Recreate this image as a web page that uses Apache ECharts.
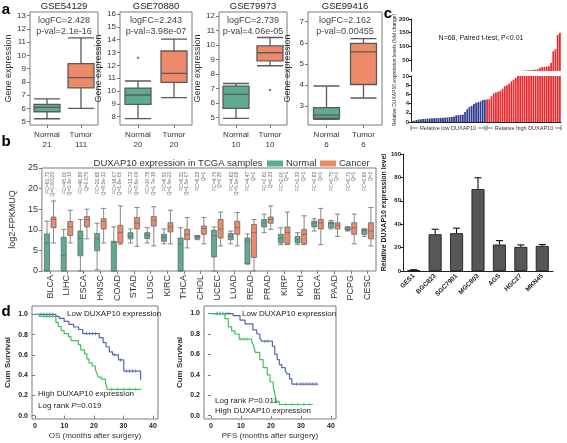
<!DOCTYPE html>
<html><head><meta charset="utf-8">
<script src="https://cdn.jsdelivr.net/npm/echarts@6/dist/echarts.min.js"></script>
<style>html,body{margin:0;padding:0;background:#fff}#c{width:567px;height:443px}</style>
</head><body><div id="c"></div>
<script>
// ---------- Panel a data ----------
const gseTitles = ['GSE54129', 'GSE70880', 'GSE79973', 'GSE99416'];
const gseLogFC = ['logFC=2.428', 'logFC=2.243', 'logFC=2.739', 'logFC=2.162'];
const gsePval = ['p-val=2.1e-16', 'p-val=3.98e-07', 'p-val=4.06e-05', 'p-val=0.00455'];
const gseGroups = ['Normal', 'Tumor'];
const gseCounts = [[21, 111], [20, 20], [10, 10], [6, 6]];
// [min, Q1, median, Q3, max]
const gseNormalBox = [[5.22, 5.75, 6.08, 6.3, 6.72], [7.84, 8.96, 9.69, 10.23, 10.78], [4.95, 5.64, 6.6, 7.17, 7.35], [2.37, 2.42, 2.57, 2.92, 3.95]];
const gseTumorBox = [[6.0, 7.55, 8.33, 9.38, 11.32], [9.48, 10.68, 11.38, 13.12, 14.05], [8.57, 8.91, 9.46, 9.94, 10.51], [3.38, 4.02, 5.57, 5.97, 6.2]];
const gseOutliers = [[], [['Normal', 12.6]], [['Tumor', 6.9]], []];
const gseYTicks = [[5, 6, 7, 8, 9, 10, 11, 12, 13], [8, 9, 10, 11, 12, 13, 14, 15, 16], [5, 6, 7, 8, 9, 10, 11, 12], [3, 4, 5, 6, 7]];

// ---------- Panel b data ----------
const tcgaTypes = ['BLCA', 'LIHC', 'ESCA', 'HNSC', 'COAD', 'STAD', 'LUSC', 'KIRC', 'THCA', 'CHOL', 'UCEC', 'LUAD', 'READ', 'PRAD', 'KIRP', 'KICH', 'BRCA', 'PAAD', 'PCPG', 'CESC'];
const tcgaFC = ['61.72', '45.00', '40.89', '20.68', '16.07', '13.72', '10.78', '6.92', '6.31', '6.23', '4.75', '4.62', '4.47', '2.81', '2.00', '1.33', '0.83', '0.75', '0.71', '0.65'];
const tcgaQ = ['0.00025', '3.3e-13', '0.075', '9.5e-12', '1.8e-05', '3.6e-09', '1.7e-19', '1.5e-21', '1.5e-07', '1', '0.35', '5.1e-08', '1', '0.33', '1', '1', '1', '1', '1', '1'];
const tcgaNormal = [
  [0, 0, 6.8, 9.0, 12.1], [0, 0, 3.7, 8.2, 10.1], [0, 3.7, 7.9, 9.7, 12.5], [0.3, 4.9, 7.8, 9.1, 11.6],
  [0, 0, 7.0, 7.2, 10.7], [6.8, 7.8, 8.4, 9.3, 10.2], [6.8, 7.9, 8.7, 9.3, 10.5], [6.6, 7.2, 8.2, 8.9, 10.2],
  [0, 0, 6.6, 8.0, 10.5], [7.6, 7.8, 8.3, 8.6, 8.6], [0, 3.4, 8.6, 9.9, 10.7], [6.6, 7.6, 8.4, 9.1, 9.7],
  [1.7, 1.7, 7.2, 8.0, 9.0], [9.3, 10.7, 11.7, 12.5, 13.8], [6.4, 6.8, 8.0, 8.9, 10.5], [6.4, 6.8, 7.6, 8.4, 9.3],
  [9.7, 10.7, 11.6, 12.1, 12.7], [10.2, 10.5, 11.5, 11.9, 12.3], [9.7, 9.9, 10.2, 10.7, 10.7], [8.4, 8.9, 9.8, 10.2, 10.2]
];
const tcgaCancer = [
  [6.8, 10.5, 12.5, 13.1, 17.0], [6.8, 8.6, 10.7, 12.0, 14.75], [7.8, 10.7, 12.5, 13.2, 15.0], [6.8, 10.2, 12.0, 12.7, 15.2],
  [6.5, 6.8, 9.3, 11.1, 15.8], [6.0, 10.2, 11.6, 13.0, 15.4], [6.1, 10.9, 12.3, 13.2, 15.6], [6.6, 9.5, 10.7, 11.7, 14.75],
  [5.6, 7.6, 8.9, 10.1, 13.0], [6.6, 8.9, 10.3, 10.9, 13.0], [6.1, 8.0, 10.2, 12.5, 14.3], [6.1, 8.9, 10.5, 12.1, 14.2],
  [0, 3.3, 9.3, 11.3, 12.5], [10.1, 11.6, 12.5, 13.1, 15.8], [6.4, 6.6, 9.3, 10.7, 14.3], [6.4, 6.6, 8.9, 10.1, 13.4],
  [6.4, 10.2, 11.7, 12.5, 15.2], [8.4, 10.2, 11.1, 11.7, 13.8], [6.6, 8.9, 10.5, 11.7, 13.8], [6.1, 7.8, 9.7, 11.7, 15.4]
];
const tcgaLegend = ['Normal', 'Cancer'];

// ---------- Panel c data ----------
const lowGroup = [0.2, 0.3, 0.45, 0.55, 0.6, 0.65, 0.7, 0.75, 0.78, 0.8, 0.82, 0.85, 0.88, 0.9, 0.92, 0.95, 1.0, 1.05, 1.1, 1.2, 1.45, 1.5, 1.55, 1.6, 2.2, 2.8, 3.3, 3.5, 3.9, 4.2, 4.3, 4.5, 4.8, 4.85];
const highGroup = [4.9, 4.95, 5.6, 6.2, 6.4, 6.6, 6.8, 7.2, 7.8, 8.0, 8.3, 8.8, 9.2, 9.6, 10.2, 10.5, 11, 11.5, 12, 12.5, 13, 14, 15, 16, 22, 24, 25, 26, 27, 40, 82, 90, 142, 150];
const foldUpperTicks = [50, 100, 150, 200];
const foldLowerTicks = [0, 2, 4, 6, 8, 10];
const cellLines = ['GES1', 'BGC823', 'SGC7901', 'MGC803', 'AGS', 'HGC27', 'MKN45'];
const cellMean = [0.8, 31.4, 32.3, 70, 22.6, 20.6, 21.4];
const cellErr = [0.3, 4.3, 4.3, 9.7, 3.4, 1.7, 1.2];

// ---------- Panel d data ----------
const osLow = [[0, 1], [7.1, 0.98], [8.2, 0.96], [9.9, 0.93], [11.5, 0.9], [13.1, 0.875], [14.8, 0.85], [16.2, 0.81], [21.8, 0.77], [23.1, 0.72], [24.1, 0.68], [25.2, 0.63], [26.3, 0.6], [28.3, 0.55], [30.1, 0.44], [35.8, 0.35]];
const osHigh = [[0, 1], [1.5, 0.98], [7.1, 0.92], [7.9, 0.88], [8.9, 0.84], [9.9, 0.81], [11.4, 0.78], [12.2, 0.74], [14.7, 0.7], [15.5, 0.65], [16.8, 0.61], [17.6, 0.56], [18.3, 0.52], [19.4, 0.49], [20.5, 0.45], [21.0, 0.42], [21.4, 0.38], [22.5, 0.36], [23.9, 0.33], [24.5, 0.26], [36, 0.26]];
const pfsLow = [[0, 1], [7.4, 0.98], [9.7, 0.935], [11.4, 0.9], [14, 0.84], [15.3, 0.8], [16.3, 0.76], [16.9, 0.73], [20.5, 0.68], [21.3, 0.6], [22.1, 0.55], [22.8, 0.5], [23.6, 0.47], [24.8, 0.44], [25.4, 0.41], [26.2, 0.36], [27.0, 0.31], [35.8, 0.31]];
const pfsHigh = [[0, 1], [4.7, 0.95], [5.8, 0.87], [6.9, 0.83], [8.0, 0.8], [9.4, 0.75], [13.6, 0.72], [14.2, 0.69], [14.8, 0.62], [16.3, 0.55], [17.4, 0.47], [18.8, 0.4], [19.7, 0.33], [20.8, 0.28], [21.3, 0.22], [21.8, 0.14], [22.8, 0.11], [34, 0.11]];
const osLowCensor = [2, 3, 4, 5, 6, 17.5, 18.5, 19.5, 20.5, 27, 29, 31, 32, 33, 34];
const osHighCensor = [3, 4, 5, 6, 26, 28, 30, 32, 34];
const pfsLowCensor = [2, 3, 4, 5, 6, 18, 19, 28.5, 30, 31, 32, 33, 34, 35];
const pfsHighCensor = [2, 3, 10, 11, 12, 25, 27, 29, 31, 33];
const survTicks = [0, 0.2, 0.4, 0.6, 0.8, 1.0];
const monthTicks = [0, 10, 20, 30, 40];

// ---------- styles ----------
const FONT = "'Liberation Sans', Arial, sans-serif";
const GREEN = '#5dab90', ORANGE = '#ec8a69', BOXLINE = '#5a5a5a';
const BLUE_BAR = '#2e3b8e', RED_BAR = '#e8262b';
const KM_BLUE = '#5567a8', KM_GREEN = '#40c05c';
const FRAME = '#7a7a7a';

function stepAt(curve, t) { let v = curve[0][1]; for (const p of curve) { if (p[0] <= t) v = p[1]; else break; } return v; }

const grid = [
  { left: 30, top: 12, width: 68, height: 113 },
  { left: 120, top: 12, width: 72, height: 113 },
  { left: 219, top: 12, width: 68, height: 113 },
  { left: 308, top: 12, width: 74, height: 113 },
  { left: 29, top: 168, width: 347, height: 103 },
  { left: 411, top: 19, width: 150, height: 52 },
  { left: 411, top: 76, width: 150, height: 46 },
  { left: 403, top: 154, width: 150, height: 117 },
  { left: 32, top: 306, width: 126, height: 113 },
  { left: 204, top: 306, width: 132, height: 113 }
].map((g, i) => Object.assign({ show: [0, 1, 2, 3, 4, 8, 9].includes(i), borderColor: FRAME, borderWidth: 1 }, g));

const aRange = [[4.75, 13.28], [7.35, 16.16], [4.5, 12.26], [2.1, 7.46]];
const xAxis = [], yAxis = [], series = [], graphic = [];

// Panel a
for (let i = 0; i < 4; i++) {
  xAxis.push({ gridIndex: i, type: 'category', data: gseGroups, axisLine: { show: false },
    axisTick: { show: true, alignWithLabel: true, length: 3, lineStyle: { color: FRAME } },
    axisLabel: { fontSize: 8, color: '#333', lineHeight: 10, margin: 5, formatter: (v, idx) => v + '\n' + gseCounts[i][idx] } });
  yAxis.push({ gridIndex: i, type: 'value', min: aRange[i][0], max: aRange[i][1], axisLine: { show: false },
    axisTick: { show: true, length: 3, lineStyle: { color: FRAME }, customValues: gseYTicks[i] },
    axisLabel: { fontSize: 8, color: '#333', margin: 4, customValues: gseYTicks[i] }, splitLine: { show: false },
    name: 'Gene expression', nameLocation: 'middle', nameGap: 16, nameTextStyle: { fontSize: 9, color: '#333' } });
  series.push({ type: 'boxplot', name: 'gse' + i, xAxisIndex: i, yAxisIndex: i, boxWidth: [26, 26],
    itemStyle: { borderColor: BOXLINE, borderWidth: 1.3 },
    data: [{ value: gseNormalBox[i], itemStyle: { color: GREEN } }, { value: gseTumorBox[i], itemStyle: { color: ORANGE } }] });
  if (gseOutliers[i].length) series.push({ type: 'scatter', name: 'out' + i, xAxisIndex: i, yAxisIndex: i, symbol: 'diamond', symbolSize: 3, itemStyle: { color: '#555' }, data: gseOutliers[i] });
  const cx = grid[i].left + grid[i].width / 2;
  graphic.push({ type: 'text', x: cx, y: 6, style: { text: gseTitles[i], fontSize: 9.5, fontFamily: FONT, fill: '#222', align: 'center', verticalAlign: 'middle' } });
  graphic.push({ type: 'text', x: cx, y: 21, style: { text: gseLogFC[i], fontSize: 9, fontFamily: FONT, fill: '#444', align: 'center', verticalAlign: 'middle' } });
  graphic.push({ type: 'text', x: cx, y: 32, style: { text: gsePval[i], fontSize: 9, fontFamily: FONT, fill: '#444', align: 'center', verticalAlign: 'middle' } });
}

// Panel b
xAxis.push({ gridIndex: 4, type: 'category', data: tcgaTypes, axisLine: { show: false },
  axisTick: { show: true, alignWithLabel: true, length: 3, lineStyle: { color: FRAME } },
  axisLabel: { rotate: 90, fontSize: 9, color: '#333', margin: 4, interval: 0 } });
yAxis.push({ gridIndex: 4, type: 'value', min: 0, max: 25, interval: 5, axisLine: { show: false },
  axisTick: { show: true, length: 3, lineStyle: { color: FRAME } }, splitLine: { show: false },
  axisLabel: { fontSize: 9, color: '#333', margin: 4 },
  name: 'log2-FPKMUQ', nameLocation: 'middle', nameGap: 16, nameTextStyle: { fontSize: 9, color: '#333' } });
series.push({ type: 'boxplot', name: tcgaLegend[0], xAxisIndex: 4, yAxisIndex: 4, boxWidth: [5, 6],
  itemStyle: { color: GREEN, borderColor: '#6a6a6a', borderWidth: 0.8 }, data: tcgaNormal });
series.push({ type: 'boxplot', name: tcgaLegend[1], xAxisIndex: 4, yAxisIndex: 4, boxWidth: [5, 6],
  itemStyle: { color: ORANGE, borderColor: '#6a6a6a', borderWidth: 0.8 }, data: tcgaCancer });
series.push({ type: 'scatter', name: 'fcq', xAxisIndex: 4, yAxisIndex: 4, symbolSize: 0, silent: true,
  data: tcgaTypes.map(t => [t, 24.1]),
  label: { show: true, position: 'inside', rotate: 90, align: 'right', verticalAlign: 'middle', fontSize: 5, lineHeight: 5.5, color: '#444',
    formatter: p => 'FC=' + tcgaFC[p.dataIndex] + '\nQ=' + tcgaQ[p.dataIndex] } });
graphic.push({ type: 'text', x: 178, y: 163, style: { text: 'DUXAP10 expression in TCGA samples', fontSize: 9.5, fontFamily: FONT, fill: '#333', align: 'center', verticalAlign: 'middle' } });
[[267, GREEN, tcgaLegend[0]], [320, ORANGE, tcgaLegend[1]]].forEach(l => {
  graphic.push({ type: 'rect', shape: { x: l[0], y: 160.5, width: 16, height: 6 }, style: { fill: l[1] } });
  graphic.push({ type: 'text', x: l[0] + 19, y: 163.5, style: { text: l[2], fontSize: 9.5, fontFamily: FONT, fill: '#333', align: 'left', verticalAlign: 'middle' } });
});

// Panel c waterfall
const foldAll = lowGroup.concat(highGroup);
const foldIdx = foldAll.map((v, i) => String(i + 1));
const barColor = i => (i < lowGroup.length ? BLUE_BAR : RED_BAR);
xAxis.push({ gridIndex: 5, type: 'category', data: foldIdx, show: false });
yAxis.push({ gridIndex: 5, type: 'value', min: 10, max: 200, axisLine: { show: true, lineStyle: { color: '#222' } },
  axisTick: { show: true, length: 2, lineStyle: { color: '#222' }, customValues: foldUpperTicks },
  axisLabel: { fontSize: 6, fontWeight: 'bold', color: '#222', margin: 2, customValues: foldUpperTicks }, splitLine: { show: false } });
xAxis.push({ gridIndex: 6, type: 'category', data: foldIdx, axisLine: { show: true, lineStyle: { color: '#222' } }, axisTick: { show: false }, axisLabel: { show: false } });
yAxis.push({ gridIndex: 6, type: 'value', min: 0, max: 10, axisLine: { show: true, lineStyle: { color: '#222' } },
  axisTick: { show: true, length: 2, lineStyle: { color: '#222' }, customValues: foldLowerTicks },
  axisLabel: { fontSize: 6, fontWeight: 'bold', color: '#222', margin: 2, customValues: foldLowerTicks }, splitLine: { show: false } });
series.push({ type: 'bar', name: 'foldUpper', xAxisIndex: 5, yAxisIndex: 5, barCategoryGap: '22%', clip: true,
  data: foldAll.map((v, i) => ({ value: v > 10 ? v : '-', itemStyle: { color: barColor(i) } })) });
series.push({ type: 'bar', name: 'foldLower', xAxisIndex: 6, yAxisIndex: 6, barCategoryGap: '22%', clip: true,
  data: foldAll.map((v, i) => ({ value: Math.min(v, 10), itemStyle: { color: barColor(i) } })) });
graphic.push({ type: 'text', x: 481, y: 38, style: { text: 'N=68, Paired t-test, P<0.01', fontSize: 7, fontFamily: FONT, fill: '#222', align: 'center', verticalAlign: 'middle' } });
graphic.push({ type: 'text', x: 395, y: 70, rotation: Math.PI / 2, style: { text: 'Relative DUXAP10 expression levels (fold change)', fontSize: 5, fontFamily: FONT, fill: '#222', align: 'center', verticalAlign: 'middle' } });
[[411, 485, 'Relative low DUXAP10'], [487, 561, 'Relative high DUXAP10']].forEach(b => {
  graphic.push({ type: 'line', shape: { x1: b[0], y1: 128, x2: b[1], y2: 128 }, style: { stroke: '#444', lineWidth: 0.7 } });
  graphic.push({ type: 'line', shape: { x1: b[0], y1: 125.5, x2: b[0], y2: 130.5 }, style: { stroke: '#444', lineWidth: 0.7 } });
  graphic.push({ type: 'line', shape: { x1: b[1], y1: 125.5, x2: b[1], y2: 130.5 }, style: { stroke: '#444', lineWidth: 0.7 } });
  graphic.push({ type: 'text', x: (b[0] + b[1]) / 2, y: 128, style: { text: b[2], fontSize: 5.5, fontFamily: FONT, fill: '#333', align: 'center', verticalAlign: 'middle', backgroundColor: '#fff', padding: [0, 2] } });
});

// Panel c cell lines
xAxis.push({ gridIndex: 7, type: 'category', data: cellLines, axisLine: { show: true, lineStyle: { color: '#222' } }, axisTick: { show: false },
  axisLabel: { rotate: 45, fontSize: 6.5, fontWeight: 'bold', color: '#222', margin: 4, interval: 0 } });
yAxis.push({ gridIndex: 7, type: 'value', min: 0, max: 100, interval: 20, axisLine: { show: true, lineStyle: { color: '#222' } },
  axisTick: { show: true, length: 3, lineStyle: { color: '#222' } }, splitLine: { show: false },
  axisLabel: { fontSize: 6, fontWeight: 'bold', color: '#222', margin: 2 },
  name: 'Relative DUXAP10 expression level', nameLocation: 'middle', nameGap: 12, nameTextStyle: { fontSize: 7, fontWeight: 'bold', color: '#222' } });
series.push({ type: 'bar', name: 'cells', xAxisIndex: 7, yAxisIndex: 7, barWidth: 13, data: cellMean,
  itemStyle: { color: '#575757', borderColor: '#111', borderWidth: 0.8 } });
series.push({ type: 'custom', name: 'err', xAxisIndex: 7, yAxisIndex: 7, encode: { x: 0, y: [1, 2] },
  data: cellLines.map((c, i) => [i, cellMean[i], cellMean[i] + cellErr[i]]),
  renderItem: (params, api) => {
    const base = api.coord([api.value(0), api.value(1)]);
    const top = api.coord([api.value(0), api.value(2)]);
    return { type: 'group', children: [
      { type: 'line', shape: { x1: base[0], y1: base[1], x2: top[0], y2: top[1] }, style: { stroke: '#111', lineWidth: 1.1 } },
      { type: 'line', shape: { x1: top[0] - 3.5, y1: top[1], x2: top[0] + 3.5, y2: top[1] }, style: { stroke: '#111', lineWidth: 1.1 } }
    ] };
  } });

// Panel d
const kmRanges = [[-1, 41.7, -0.033, 1.082], [-2.3, 41.7, -0.032, 1.074]];
const kmTitles = ['OS (months after surgery)', 'PFS (months after surgery)'];
const kmCurves = [[osLow, osHigh, osLowCensor, osHighCensor], [pfsLow, pfsHigh, pfsLowCensor, pfsHighCensor]];
for (let k = 0; k < 2; k++) {
  const gi = 8 + k;
  xAxis.push({ gridIndex: gi, type: 'value', min: kmRanges[k][0], max: kmRanges[k][1], axisLine: { show: false },
    axisTick: { show: true, length: 3, lineStyle: { color: FRAME }, customValues: monthTicks },
    axisLabel: { fontSize: 7, fontWeight: 'bold', color: '#222', margin: 4, customValues: monthTicks }, splitLine: { show: false },
    name: kmTitles[k], nameLocation: 'middle', nameGap: 13, nameTextStyle: { fontSize: 8, color: '#333' } });
  yAxis.push({ gridIndex: gi, type: 'value', min: kmRanges[k][2], max: kmRanges[k][3], axisLine: { show: false },
    axisTick: { show: true, length: 3, lineStyle: { color: FRAME }, customValues: survTicks },
    axisLabel: { fontSize: 7, fontWeight: 'bold', color: '#222', margin: 4, customValues: survTicks, formatter: v => v.toFixed(1) }, splitLine: { show: false },
    name: 'Cum Survival', nameLocation: 'middle', nameGap: 20, nameTextStyle: { fontSize: 8, fontWeight: 'bold', color: '#333' } });
  const [low, high, lowC, highC] = kmCurves[k];
  series.push({ type: 'line', name: 'low' + k, xAxisIndex: gi, yAxisIndex: gi, step: 'end', showSymbol: false, data: low, lineStyle: { color: KM_BLUE, width: 1.2 } });
  series.push({ type: 'line', name: 'high' + k, xAxisIndex: gi, yAxisIndex: gi, step: 'end', showSymbol: false, data: high, lineStyle: { color: KM_GREEN, width: 1.2 } });
  series.push({ type: 'scatter', name: 'lowc' + k, xAxisIndex: gi, yAxisIndex: gi, symbol: 'rect', symbolSize: [0.8, 3.5], itemStyle: { color: KM_BLUE }, data: lowC.map(t => [t, stepAt(low, t)]) });
  series.push({ type: 'scatter', name: 'highc' + k, xAxisIndex: gi, yAxisIndex: gi, symbol: 'rect', symbolSize: [0.8, 3.5], itemStyle: { color: KM_GREEN }, data: highC.map(t => [t, stepAt(high, t)]) });
}
const kmText = (x, y, text) => graphic.push({ type: 'text', x, y, style: { text, fontSize: 8, fontFamily: FONT, fill: '#222', align: 'left', verticalAlign: 'middle', rich: { i: { fontStyle: 'italic', fontSize: 8, fontFamily: FONT, fill: '#222' } } } });
kmText(67, 314, 'Low DUXAP10 expression');
kmText(38, 394, 'High DUXAP10 expression');
kmText(38, 406, 'Log rank {i|P}=0.019');
kmText(242, 314, 'Low DUXAP10 expression');
kmText(215, 401, 'Log rank {i|P}=0.011');
kmText(215, 411, 'High DUXAP10 expression');

// panel letters
[['a', 6, 10], ['b', 6, 142], ['c', 388, 14], ['d', 6, 312]].forEach(l => graphic.push({ type: 'text', x: l[1], y: l[2], style: { text: l[0], fontSize: 15, fontWeight: 'bold', fontFamily: FONT, fill: '#000', align: 'center', verticalAlign: 'middle' } }));

const chart = echarts.init(document.getElementById('c'));
chart.setOption({
  animation: false,
  backgroundColor: '#fff',
  textStyle: { fontFamily: FONT },
  grid, xAxis, yAxis, series, graphic
});
</script></body></html>
